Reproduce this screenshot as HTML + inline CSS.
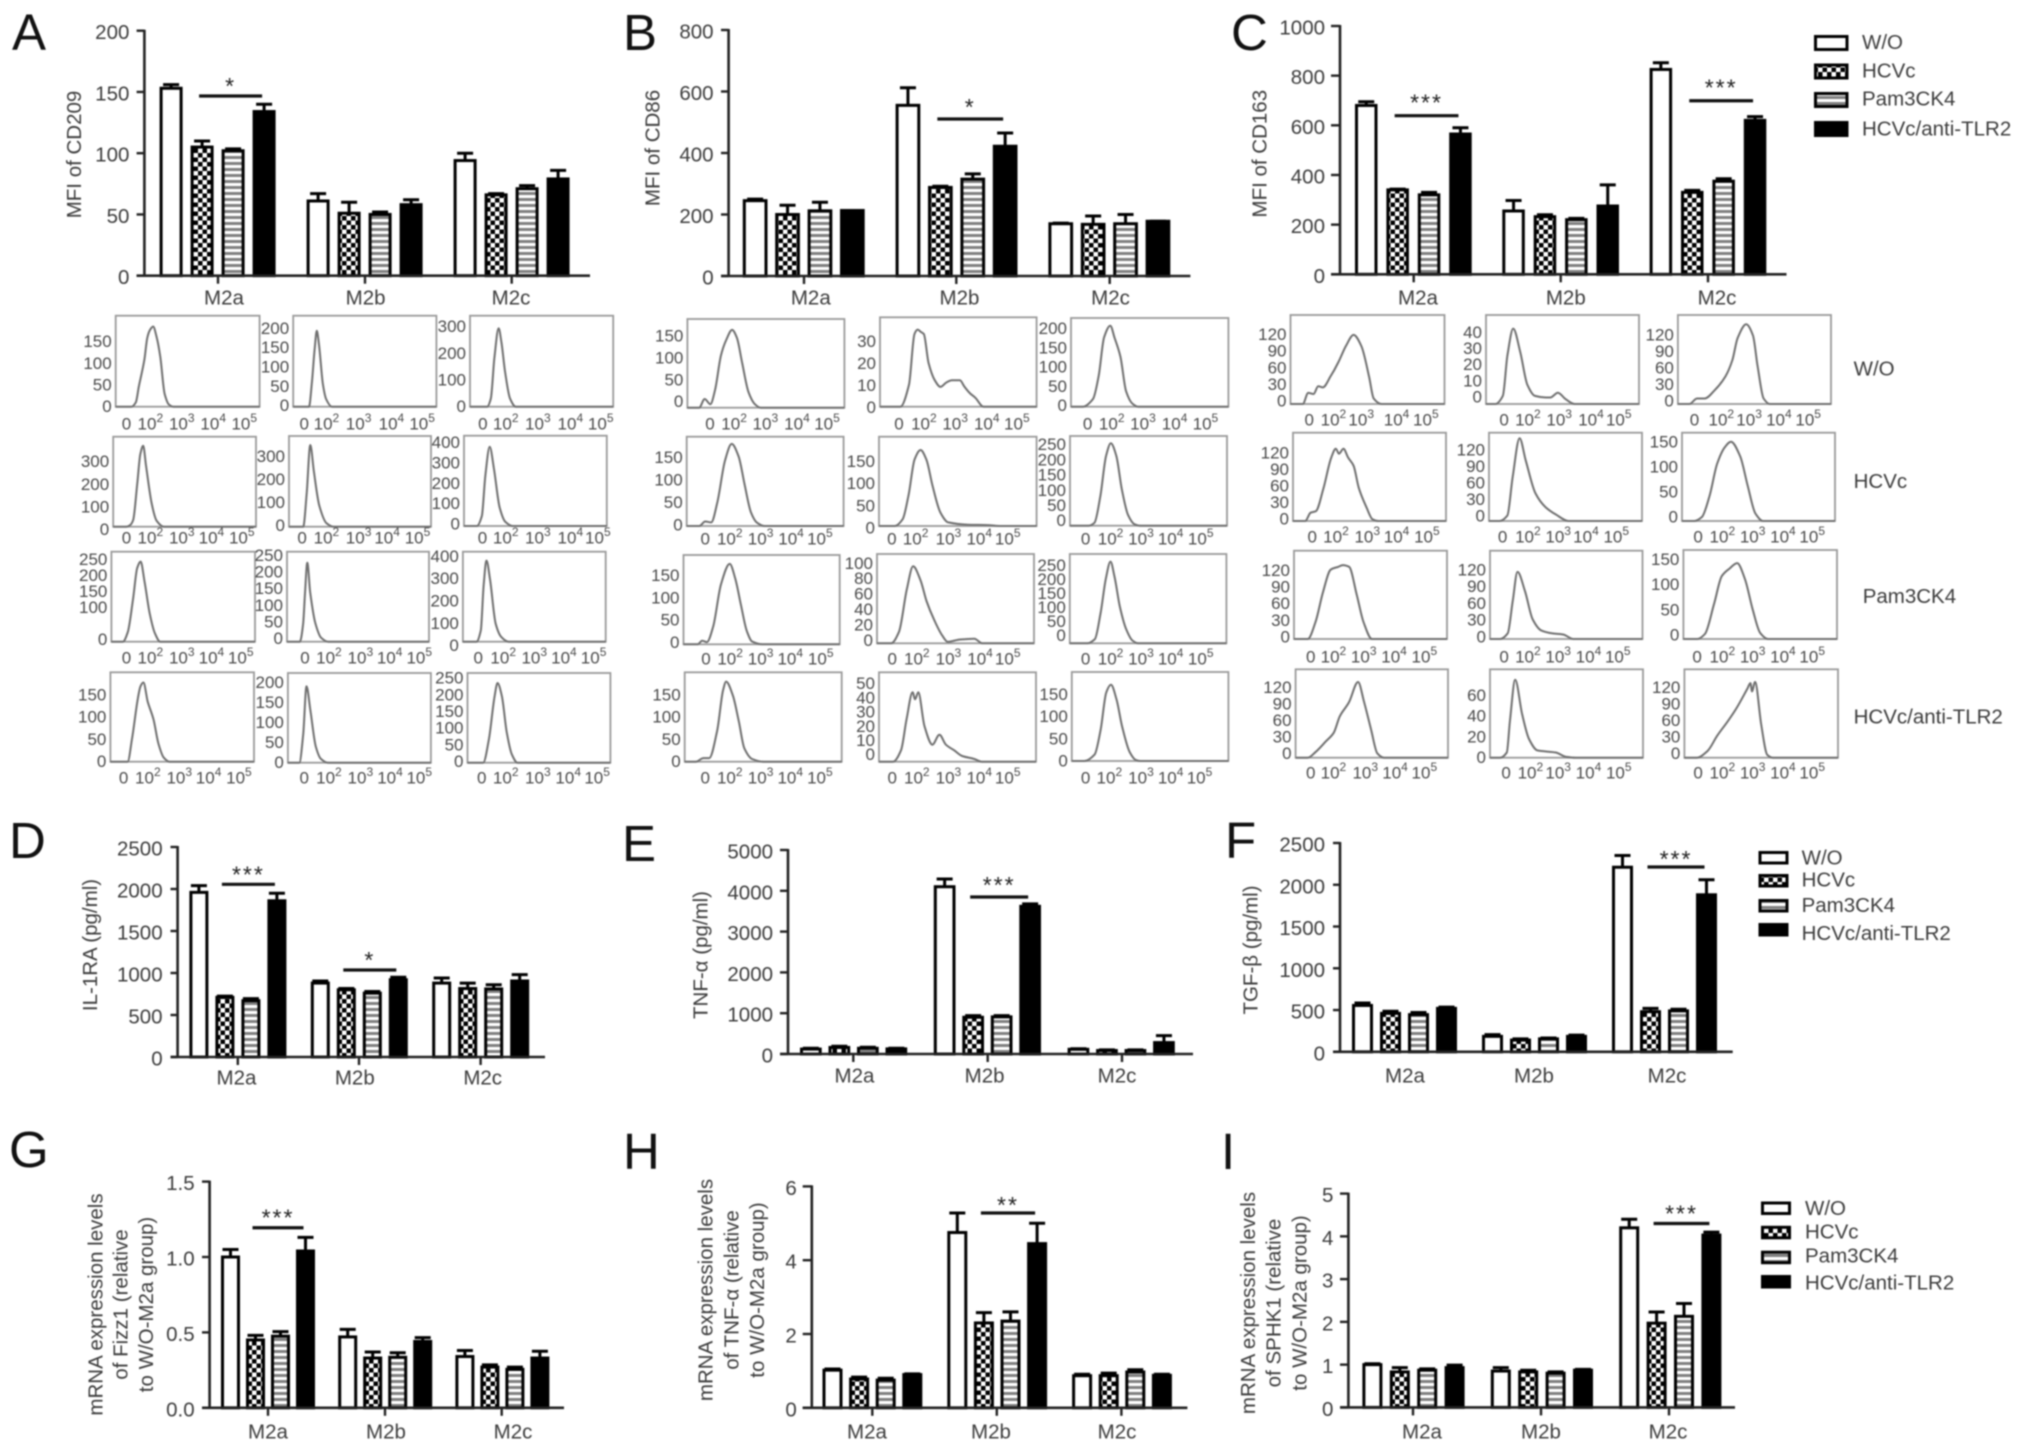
<!DOCTYPE html>
<html lang="en">
<head>
<meta charset="utf-8">
<title>M2 macrophage marker, cytokine and mRNA panels</title>
<style>
  html,body{margin:0;padding:0;background:#fff;}
  #figure{display:block;width:2032px;height:1451px;filter:blur(0.7px);font-family:"Liberation Sans",sans-serif;fill:#3c3c3c;}
  .letter{font-size:51px;fill:#111;}
  .ytitle{font-size:20.5px;text-anchor:middle;dominant-baseline:central;}
  .leg{font-size:20.5px;dominant-baseline:central;}
  .rowlabel{font-size:20.5px;dominant-baseline:central;}
  .swatch{stroke:#000;stroke-width:3;}
</style>
</head>
<body>
<svg id="figure" xmlns="http://www.w3.org/2000/svg" width="2032" height="1451" viewBox="0 0 2032 1451">
  <defs>
    <pattern id="pat-check" width="9" height="9" patternUnits="userSpaceOnUse">
      <rect width="9" height="9" fill="#fff"/>
      <rect width="4.5" height="4.5" fill="#000"/>
      <rect x="4.5" y="4.5" width="4.5" height="4.5" fill="#000"/>
    </pattern>
    <pattern id="pat-stripe" width="6" height="6" patternUnits="userSpaceOnUse">
      <rect width="6" height="6" fill="#fff"/>
      <rect width="6" height="3" fill="#808080"/>
    </pattern>
  </defs>
  <rect width="2032" height="1451" fill="#fff"/>

  <text class="letter" x="12" y="50">A</text>
  <text class="letter" x="623" y="50">B</text>
  <text class="letter" x="1231" y="50">C</text>
  <text class="letter" x="9" y="858">D</text>
  <text class="letter" x="622" y="861">E</text>
  <text class="letter" x="1225" y="858">F</text>
  <text class="letter" x="9" y="1167">G</text>
  <text class="letter" x="623" y="1169">H</text>
  <text class="letter" x="1221" y="1169">I</text>

  <text class="ytitle" transform="translate(74.6 154.5) rotate(-90)">MFI of CD209</text>
  <text class="ytitle" transform="translate(653 148) rotate(-90)">MFI of CD86</text>
  <text class="ytitle" transform="translate(1260 153.7) rotate(-90)">MFI of CD163</text>
  <text class="ytitle" transform="translate(90.5 945) rotate(-90)">IL-1RA (pg/ml)</text>
  <text class="ytitle" transform="translate(701 955) rotate(-90)">TNF-α (pg/ml)</text>
  <text class="ytitle" transform="translate(1251 950) rotate(-90)">TGF-β (pg/ml)</text>
  <g>
    <text class="ytitle" transform="translate(96 1304.5) rotate(-90)">mRNA expression levels</text>
    <text class="ytitle" transform="translate(121 1304.5) rotate(-90)">of Fizz1 (relative</text>
    <text class="ytitle" transform="translate(146.5 1304.5) rotate(-90)">to W/O-M2a group)</text>
  </g>
  <g>
    <text class="ytitle" transform="translate(706 1290) rotate(-90)">mRNA expression levels</text>
    <text class="ytitle" transform="translate(732 1290) rotate(-90)">of TNF-α (relative</text>
    <text class="ytitle" transform="translate(757.6 1290) rotate(-90)">to W/O-M2a group)</text>
  </g>
  <g>
    <text class="ytitle" transform="translate(1248.5 1303) rotate(-90)">mRNA expression levels</text>
    <text class="ytitle" transform="translate(1274 1303) rotate(-90)">of SPHK1 (relative</text>
    <text class="ytitle" transform="translate(1300 1303) rotate(-90)">to W/O-M2a group)</text>
  </g>

  <g>
    <g><rect class="swatch" x="1815.5" y="36.5" width="31.5" height="13" fill="#fff"/><text class="leg" x="1862" y="42.7">W/O</text></g>
    <g><rect class="swatch" x="1815.5" y="65" width="31.5" height="13" fill="url(#pat-check)"/><text class="leg" x="1862" y="71">HCVc</text></g>
    <g><rect class="swatch" x="1815.5" y="93.5" width="31.5" height="13" fill="url(#pat-stripe)"/><text class="leg" x="1862" y="99">Pam3CK4</text></g>
    <g><rect class="swatch" x="1815.5" y="122.5" width="31.5" height="13" fill="#000"/><text class="leg" x="1862" y="129">HCVc/anti-TLR2</text></g>
  </g>
  <g>
    <g><rect class="swatch" x="1760" y="852.5" width="27" height="10.5" fill="#fff"/><text class="leg" x="1801.6" y="858">W/O</text></g>
    <g><rect class="swatch" x="1760" y="875.5" width="27" height="10.5" fill="url(#pat-check)"/><text class="leg" x="1801.6" y="880">HCVc</text></g>
    <g><rect class="swatch" x="1760" y="900.5" width="27" height="10.5" fill="url(#pat-stripe)"/><text class="leg" x="1801.6" y="905.6">Pam3CK4</text></g>
    <g><rect class="swatch" x="1760" y="924.5" width="27" height="10.5" fill="#000"/><text class="leg" x="1801.6" y="933.3">HCVc/anti-TLR2</text></g>
  </g>
  <g>
    <g><rect class="swatch" x="1762.5" y="1203" width="27" height="10.5" fill="#fff"/><text class="leg" x="1805" y="1208.5">W/O</text></g>
    <g><rect class="swatch" x="1762.5" y="1227.3" width="27" height="10.5" fill="url(#pat-check)"/><text class="leg" x="1805" y="1232">HCVc</text></g>
    <g><rect class="swatch" x="1762.5" y="1252.2" width="27" height="10.5" fill="url(#pat-stripe)"/><text class="leg" x="1805" y="1256">Pam3CK4</text></g>
    <g><rect class="swatch" x="1762.5" y="1276.5" width="27" height="10.5" fill="#000"/><text class="leg" x="1805" y="1283">HCVc/anti-TLR2</text></g>
  </g>

  <text class="rowlabel" x="1853.6" y="369">W/O</text>
  <text class="rowlabel" x="1853.6" y="481.7">HCVc</text>
  <text class="rowlabel" x="1862.7" y="596.7">Pam3CK4</text>
  <text class="rowlabel" x="1853.6" y="717">HCVc/anti-TLR2</text>

  <g id="bar-charts"></g>
  <g id="histograms"></g>
</svg>

<script>
/* ---------- bar chart data ---------- */
const categories = ['M2a', 'M2b', 'M2c'];
const seriesNames = ['w-o', 'hcvc', 'pam3ck4', 'hcvc-anti-tlr2'];

const yTicksA = ['0', '50', '100', '150', '200'];
const valuesA = [[153, 105, 102, 134], [61, 51, 50, 58], [94, 66, 71, 79]];
const errorsA = [[3, 5, 1.5, 6], [6, 9, 2, 4], [6, 1, 2.5, 7]];
const sigA = [[0, 146.7, '*']];

const yTicksB = ['0', '200', '400', '600', '800'];
const valuesB = [[245, 200, 212, 213], [555, 288, 315, 422], [170, 168, 170, 178]];
const errorsB = [[5, 30, 28, 0], [57, 4, 17, 43], [2, 27, 30, 0]];
const sigB = [[1, 510.6, '*']];

const yTicksC = ['0', '200', '400', '600', '800', '1000'];
const valuesC = [[680, 340, 320, 565], [255, 232, 220, 275], [825, 330, 375, 620]];
const errorsC = [[15, 3, 10, 25], [42, 8, 5, 85], [27, 8, 10, 15]];
const sigC = [[0, 638.7, '***'], [2, 699, '***']];

const yTicksD = ['0', '500', '1000', '1500', '2000', '2500'];
const valuesD = [[1960, 710, 670, 1860], [880, 800, 760, 920], [880, 815, 810, 905]];
const errorsD = [[80, 15, 25, 90], [25, 15, 20, 30], [60, 65, 50, 75]];
const sigD = [[0, 2056, '***'], [1, 1036, '*']];

const yTicksE = ['0', '1000', '2000', '3000', '4000', '5000'];
const valuesE = [[120, 160, 140, 125], [4100, 900, 910, 3620], [115, 85, 85, 280]];
const errorsE = [[20, 30, 25, 15], [190, 40, 30, 60], [15, 15, 15, 170]];
const sigE = [[1, 3848, '***']];

const yTicksF = ['0', '500', '1000', '1500', '2000', '2500'];
const valuesF = [[555, 460, 445, 520], [185, 140, 155, 185], [2210, 480, 490, 1880]];
const errorsF = [[30, 25, 25, 15], [20, 15, 10, 15], [140, 40, 20, 180]];
const sigF = [[2, 2213, '***']];

const yTicksG = ['0.0', '0.5', '1.0', '1.5'];
const valuesG = [[1.0, 0.45, 0.475, 1.04], [0.47, 0.33, 0.335, 0.44], [0.34, 0.27, 0.255, 0.33]];
const errorsG = [[0.05, 0.03, 0.03, 0.09], [0.05, 0.04, 0.03, 0.025], [0.04, 0.015, 0.015, 0.045]];
const sigG = [[0, 1.194, '***']];

const yTicksH = ['0', '2', '4', '6'];
const valuesH = [[1.02, 0.78, 0.75, 0.9], [4.75, 2.3, 2.35, 4.45], [0.87, 0.87, 0.97, 0.88]];
const errorsH = [[0.03, 0.05, 0.05, 0.02], [0.53, 0.28, 0.25, 0.55], [0.04, 0.07, 0.06, 0.03]];
const sigH = [[1, 5.28, '**']];

const yTicksI = ['0', '1', '2', '3', '4', '5'];
const valuesI = [[1.0, 0.83, 0.87, 0.93], [0.85, 0.83, 0.8, 0.87], [4.2, 1.97, 2.13, 4.03]];
const errorsI = [[0.02, 0.1, 0.03, 0.06], [0.08, 0.04, 0.03, 0.02], [0.2, 0.26, 0.3, 0.07]];
const sigI = [[2, 4.3, '***']];

/* ---------- histogram data: curves are [channel %, count] ---------- */
const histYMaxA = [210, 235, 341, 397, 394, 444, 281, 270, 403, 201, 223, 268];
const histYTicksA = [[0,50,100,150],[0,50,100,150,200],[0,100,200,300],[0,100,200,300],[0,100,200,300],[0,100,200,300,400],[0,100,150,200,250],[0,50,100,150,200,250],[0,100,200,300,400],[0,50,100,150],[0,50,100,150,200],[0,50,100,150,200,250]];
const histCurvesA = [
  [[11,0],[14,10],[16,45],[20,110],[22,160],[24,178],[26,185],[28.5,160],[31,115],[34,30],[37,5],[40,0]],
  [[11,0],[13,60],[15,150],[16.5,196],[18,160],[20.7,60],[23,20],[27,0]],
  [[12,0],[14.5,30],[17,180],[20,294],[22,240],[24.5,130],[28,30],[32,0]],
  [[9,0],[12,8],[14,30],[17,200],[19,320],[21,357],[23,270],[27,100],[30.5,25],[35.5,0]],
  [[10,0],[12.5,150],[15,355],[17.5,240],[21.4,90],[26.4,15],[31.4,0]],
  [[9,0],[12.5,50],[15,250],[18,390],[21,280],[25,90],[29,20],[34,0]],
  [[8,0],[11.4,30],[15,130],[18,230],[20.4,250],[23,190],[26.6,90],[30.4,25],[34,0]],
  [[9,0],[11.3,50],[12.6,140],[14.3,237],[16.3,150],[20,55],[24,12],[29,0]],
  [[9.5,0],[12.5,50],[14.5,250],[16.5,363],[19,280],[23,80],[27,20],[32,0]],
  [[12,0],[15,50],[19,140],[21,170],[23,178],[26,135],[30,95],[33.5,40],[37,10],[41,0]],
  [[8,0],[10.7,70],[13,190],[15.7,130],[19.5,40],[23,10],[28,0]],
  [[11,0],[15,70],[19,200],[21,238],[24,200],[27.5,90],[31,25],[35,0]]
];

const histYMaxB = [203, 40.6, 230, 198, 201, 295, 201, 116, 319, 201, 63, 201];
const histYTicksB = [[0,50,100,150],[0,10,20,30],[0,50,100,150,200],[0,50,100,150],[0,50,100,150],[0,50,100,150,200,250],[0,50,100,150],[0,20,40,60,80,100],[0,50,100,150,200,250],[0,50,100,150],[0,10,20,30,40,50],[0,50,100,150]];
const histCurvesB = [
  [[7.5,0],[11,20],[14.6,8],[17.6,40],[21.4,120],[24.7,155],[28.5,178],[31.5,160],[35,100],[39,35],[43,8],[46.6,0]],
  [[13,0],[18.5,10],[22,33],[24,35],[26,34],[28,33],[31,20],[35,12],[38.6,9],[42.4,11],[46,12],[51,12],[54,9],[57.6,6],[61,4],[66,0]],
  [[7.5,0],[14,20],[17.6,80],[21,180],[25,210],[27.6,180],[31.4,130],[35,40],[39,8],[42.7,0]],
  [[8,0],[11.8,10],[15.6,8],[19.4,50],[24.4,145],[28.7,182],[33,155],[37,90],[41,30],[44.6,8],[49.6,0]],
  [[10,0],[15,15],[18.8,70],[22.6,150],[26.4,171],[30,150],[34,90],[39,30],[44,8],[56.5,3],[69,2],[76.6,0]],
  [[12,0],[15.6,10],[19.4,100],[23,230],[26,271],[29.5,230],[33,120],[37,35],[41,5],[44.6,0]],
  [[9,0],[12,8],[15,5],[19,40],[24,135],[29.6,181],[33,150],[36.7,90],[40.5,30],[44,6],[50.6,0]],
  [[9,0],[14,15],[19,70],[23,100],[27.7,82],[31.5,55],[36.5,30],[41.6,10],[45,2],[53,5],[62,6],[67,0]],
  [[11,0],[16,15],[19.7,110],[23,230],[26,292],[28.5,240],[32,130],[36,50],[40,10],[43.7,0]],
  [[7,0],[12,8],[15.6,8],[20.7,70],[24.4,160],[26.4,180],[30.6,150],[34.5,90],[38,30],[43,6],[50,0]],
  [[9,0],[14,8],[17.6,30],[21.4,49],[23,44],[25,49],[29,25],[34,12],[38.5,19],[42.6,12],[47.9,8],[53,4],[60.5,2],[65.5,0]],
  [[8,0],[14.6,15],[18.4,70],[22,155],[25,172],[28.5,140],[32,80],[37,20],[41,2],[43.7,0]]
];

const histYMaxC = [161, 55, 162, 160, 160, 177, 159, 158, 177, 160, 85, 160];
const histYTicksC = [[0,30,60,90,120],[0,10,20,30,40],[0,30,60,90,120],[0,30,60,90,120],[0,30,60,90,120],[0,50,100,150],[0,30,60,90,120],[0,30,60,90,120],[0,50,100,150],[0,30,60,90,120],[0,20,40,60],[0,30,60,90,120]];
const histCurvesC = [
  [[8,0],[11.5,20],[15,18],[18,32],[21,30],[26,50],[31,75],[36,105],[41,125],[46,105],[51,50],[54,10],[59,0]],
  [[6,0],[11,5],[14,30],[17.8,46.6],[22.4,32],[27,12],[32,5],[39,4],[42,4],[47,7],[52,3],[58,0]],
  [[7.5,0],[12.5,10],[17.5,10],[24,25],[31,50],[35.6,80],[39,120],[44.6,145],[49,125],[52,70],[56,10],[60,0]],
  [[8,0],[11.5,15],[15,18],[20,60],[25,115],[28,131],[30,122],[33,131],[36,115],[39.6,100],[43,60],[48,25],[52,3],[56,0]],
  [[7,0],[12,10],[15.5,80],[20,150],[24,110],[30.4,50],[37,25],[43.6,12],[52,0]],
  [[8,0],[13,8],[18,50],[23,115],[28,148],[32,159],[38,130],[43,70],[48,15],[53,0]],
  [[9,0],[14,30],[19,85],[24,125],[29,130],[32,133],[36,130],[41,80],[45.5,30],[51,0]],
  [[6.6,0],[11.6,10],[15,70],[18,120],[23,85],[28,35],[33.8,15],[41,10],[48,8],[54.6,0]],
  [[9,0],[14,10],[20,70],[25,125],[30,140],[35,151],[40,120],[45,60],[50,12],[55,0]],
  [[8,0],[13,10],[20,30],[25,45],[29,75],[35,100],[41,137],[45,100],[49.6,50],[53.6,8],[58,0]],
  [[6.6,0],[11,5],[13,35],[16.5,75],[21,42],[25.5,18],[31,7],[43,5],[49.5,1],[56,0]],
  [[8,0],[15,12],[21.4,40],[28,65],[34,90],[41,125],[43,135],[44,120],[46,137],[50,60],[54,5],[57.5,0]]
];

const histExponents = [0, 2, 3, 4, 5];

/* ---------- layout (pixels), separate from data ---------- */
const barLayouts = {
  A:{axisX:144.4,xStart:136.6,xEnd:590,top:30.7,base:275.7,first:159.6,barStep:31,barW:23,groupStep:147,ticks:[218,365,511.7],labels:[224,365.6,511],labelY:298,starDy:-15},
  B:{axisX:728.6,xStart:721,xEnd:1190.4,top:30,base:276,first:742.8,barStep:32.4,barW:24.7,groupStep:152.8,ticks:[804,956.3,1109.7],labels:[810.8,959.5,1110.5],labelY:298,starDy:-17},
  C:{axisX:1340,xStart:1331,xEnd:1786.5,top:26,base:274.3,first:1355,barStep:31.4,barW:22.5,groupStep:147.3,ticks:[1413.7,1560.7,1708],labels:[1418,1565.8,1717],labelY:298,starDy:-18},
  D:{axisX:177.6,xStart:170.5,xEnd:545,top:847,base:1057,first:189.4,barStep:26,barW:19,groupStep:121.4,ticks:[237.8,359,480.6],labels:[236.5,354.8,482.7],labelY:1078,starDy:-15},
  E:{axisX:788,xStart:780,xEnd:1193,top:850,base:1054,first:800,barStep:28.5,barW:21.7,groupStep:133.8,ticks:[853.3,987.7,1122],labels:[854.5,984.6,1117],labelY:1076,starDy:-17},
  F:{axisX:1340,xStart:1333,xEnd:1732.7,top:843,base:1051.8,first:1352,barStep:28,barW:21,groupStep:130,ticks:[],labels:[1405,1534,1667],labelY:1076,starDy:-13},
  G:{axisX:209.6,xStart:202,xEnd:564,top:1181.6,base:1407.8,first:221,barStep:25,barW:19,groupStep:117.2,ticks:[268,385,501.7],labels:[268,386,513],labelY:1432,starDy:-15},
  H:{axisX:811.8,xStart:802.7,xEnd:1187.4,top:1186.4,base:1407.8,first:822.5,barStep:26.6,barW:20,groupStep:124.8,ticks:[872.3,996.8,1121.4],labels:[867,991,1117],labelY:1432,starDy:-13},
  I:{axisX:1348.4,xStart:1340,xEnd:1735,top:1193.6,base:1407.4,first:1362.4,barStep:27.4,barW:20,groupStep:128.4,ticks:[1413,1541,1669],labels:[1422,1541,1668],labelY:1432,starDy:-15}
};

const histBoxesA = [[115.7,315.7,143.9,91],[293.2,315.7,143.2,91],[470,315.7,143.2,91],[113.2,436.7,142.8,90],[289,436,142,90.7],[464,435.7,142.8,90.3],[111.4,551.7,143.6,90],[287,551.7,142,90],[462.9,551.7,142.8,90],[110.4,672.3,143.6,89.4],[287.9,673,143,89.7],[467.5,673,142.9,89.7]];
const histBoxesB = [[687.4,319,157,88.7],[880,317.3,156.6,89.4],[1071,318,157.4,88.7],[686.7,436.7,156.9,89.3],[879,436.7,157.6,89.3],[1070,436,157,89.7],[683.5,555,156.2,89.3],[877,554,157,89.3],[1069.8,554,156.6,89.3],[684.7,672.3,157,89.4],[879,672.3,157,89.4],[1071.8,672,156.6,89]];
const histBoxesC = [[1290.5,315,154,89],[1486,315,153,89],[1677.9,315,153.1,89],[1293,432.7,153,88.3],[1489,432.7,153,88.3],[1682,432.7,153,88.3],[1294,550.7,153,88.3],[1490,550.7,152.5,88.3],[1683.4,550,153.6,89],[1295.6,669.3,152.4,88.4],[1490,669.3,153,88.4],[1684.4,669.3,153.6,88.4]];
const histLabelShiftA = [0,-1,0,3,-1,-2,-2,-3,4,0,0,-1];
const histLabelShiftB = [-6,1,-1,-1,2,-5,-2,-3,-8,0,-7,0];
const histLabelShiftC = [-3,-7,-3,-2,-5,-4,-2,-2,-4,-4,0,-4];
const histRowLabelYA = [424, 538, 658, 778];
const histRowLabelYB = [424, 539, 659, 778];
const histRowLabelYC = [420, 537, 657, 773];
const histLabelPosA = {origin:80,scale:2.8,rows:[[130,197,285,373,460],[628,690,780,872,958],[1128,1192,1282,1373,1458],[130,197,285,368,453],[622,690,780,860,945],[1127,1192,1282,1373,1450],[130,197,285,368,450],[630,697,785,867,950],[1115,1185,1272,1355,1438],[122,190,278,360,445],[628,697,785,868,950],[1125,1192,1282,1367,1448]]};
const histLabelPosB = {origin:640,scale:2.529,rows:[[177,238,317,397,473],[655,718,797,877,953],[1132,1193,1272,1352,1430],[165,227,305,382,455],[637,697,780,858,930],[1127,1190,1267,1342,1418],[167,228,305,380,457],[638,700,780,860,930],[1127,1190,1267,1342,1418],[165,227,305,380,455],[638,700,780,858,930],[1127,1187,1267,1342,1415]]};
const histLabelPosC = {origin:1240,scale:1.98,rows:[[137,185,240,310,368],[523,570,632,695,750],[900,953,1008,1067,1125],[143,190,252,310,370],[520,570,630,685,745],[907,955,1015,1075,1133],[140,185,245,305,365],[523,570,630,690,748],[905,955,1015,1075,1133],[140,185,248,307,365],[527,575,630,690,750],[907,955,1015,1075,1133]]};

/* ---------- drawing ---------- */
const SVGNS = 'http://www.w3.org/2000/svg';
function mk(tag, attrs, parent) {
  const node = document.createElementNS(SVGNS, tag);
  for (const k in attrs) node.setAttribute(k, attrs[k]);
  parent.appendChild(node);
  return node;
}
const barFills = ['#fff', 'url(#pat-check)', 'url(#pat-stripe)', '#000'];

/* monotone cubic path so curves stay smooth without overshooting the baseline */
function smoothPath(pts) {
  const n = pts.length;
  const m = [];
  for (let i = 0; i < n - 1; i++) m.push((pts[i + 1][1] - pts[i][1]) / (pts[i + 1][0] - pts[i][0]));
  const t = [m[0]];
  for (let i = 1; i < n - 1; i++) t.push(m[i - 1] * m[i] <= 0 ? 0 : 2 / (1 / m[i - 1] + 1 / m[i]));
  t.push(m[n - 2]);
  let d = 'M' + pts[0][0].toFixed(1) + ' ' + pts[0][1].toFixed(1);
  for (let i = 0; i < n - 1; i++) {
    const h = (pts[i + 1][0] - pts[i][0]) / 3;
    d += 'C' + (pts[i][0] + h).toFixed(1) + ' ' + (pts[i][1] + t[i] * h).toFixed(1) + ' ' +
         (pts[i + 1][0] - h).toFixed(1) + ' ' + (pts[i + 1][1] - t[i + 1] * h).toFixed(1) + ' ' +
         pts[i + 1][0].toFixed(1) + ' ' + pts[i + 1][1].toFixed(1);
  }
  return d;
}

function drawBarChart(id, yTicks, values, errors, sig) {
  const L = barLayouts[id];
  const yMax = Number(yTicks[yTicks.length - 1]);
  const yScale = v => L.base - (v / yMax) * (L.base - L.top);
  const barX = (g, s) => L.first + g * L.groupStep + s * L.barStep;
  const root = document.getElementById('bar-charts');

  const panel = mk('g', {}, root);
  
  

  values.forEach((grp, g) => {
    grp.forEach((v, s) => {
      const cx = barX(g, s) + L.barW / 2;
      const errTop = yScale(v + errors[g][s]);
      const err = mk('path', {d: 'M' + cx + ' ' + yScale(v) + 'V' + errTop + 'M' + (cx - 8) + ' ' + errTop + 'H' + (cx + 8), stroke: '#000', 'stroke-width': 3, fill: 'none'}, panel);
      
      
      const bar = mk('rect', {x: barX(g, s) + 1.5, y: yScale(v), width: L.barW - 3, height: L.base - yScale(v), fill: barFills[s], stroke: '#000', 'stroke-width': 3}, panel);
      
      
    });
  });

  const yAxis = mk('line', {x1: L.axisX, x2: L.axisX, y1: L.top - 1, y2: L.base, stroke: '#222', 'stroke-width': 2.6}, panel);
  
  
  const xAxis = mk('line', {x1: L.xStart, x2: L.xEnd, y1: L.base, y2: L.base, stroke: '#222', 'stroke-width': 2.6}, panel);
  
  

  yTicks.forEach(t => {
    const v = Number(t);
    const tick = mk('line', {x1: L.xStart, x2: L.axisX, y1: yScale(v), y2: yScale(v), stroke: '#222', 'stroke-width': 2.4}, panel);
    
    
    const lab = mk('text', {x: L.axisX - 15, y: yScale(v) + 2, 'text-anchor': 'end', 'dominant-baseline': 'central', 'font-size': 20.5}, panel);
    lab.textContent = t;
    
    
  });

  L.ticks.forEach(x => {
    const tick = mk('line', {x1: x, x2: x, y1: L.base, y2: L.base + 8, stroke: '#222', 'stroke-width': 2.4}, panel);
    
    
  });
  categories.forEach((c, i) => {
    const lab = mk('text', {x: L.labels[i], y: L.labelY, 'text-anchor': 'middle', 'dominant-baseline': 'central', 'font-size': 20.5}, panel);
    lab.textContent = c;
    
    
  });

  sig.forEach(item => {
    const g = item[0];
    const y = yScale(item[1]);
    const x1 = barX(g, 1) + L.barW / 2 - 3;
    const x2 = barX(g, 3) + L.barW / 2 - 2;
    const line = mk('line', {x1: x1, x2: x2, y1: y, y2: y, stroke: '#111', 'stroke-width': 3.2}, panel);
    
    
    const star = mk('text', {x: (x1 + x2) / 2, y: y + L.starDy + 13, 'text-anchor': 'middle', 'font-size': 23, 'letter-spacing': 2, fill: '#222'}, panel);
    star.textContent = item[2];
    
    
  });
}

function drawHistograms(panelName, boxes, curves, yMaxes, yTicks, shifts, labelPos, rowY) {
  const root = document.getElementById('histograms');
  const group = mk('g', {}, root);
  
  

  boxes.forEach((box, i) => {
    const bx = box[0], by = box[1], bw = box[2], bh = box[3];
    const xScale = ch => bx + (ch / 100) * bw;
    const yScale = c => by + bh - (c / yMaxes[i]) * bh;
    const p = mk('g', {}, group);
    
    

    const frame = mk('rect', {x: bx, y: by, width: bw, height: bh, fill: '#fff', stroke: '#9a9a9a', 'stroke-width': 1.8}, p);
    
    

    const pts = [[0, 0]].concat(curves[i], [[100, 0]]).map(q => [xScale(q[0]), yScale(q[1])]);
    const line = mk('path', {d: smoothPath(pts), fill: 'none', stroke: '#6f6f6f', 'stroke-width': 2, 'stroke-linejoin': 'round'}, p);
    
    

    yTicks[i].forEach(t => {
      const lab = mk('text', {x: bx - 4, y: yScale(t) + shifts[i], 'text-anchor': 'end', 'dominant-baseline': 'central', 'font-size': 17, fill: '#4a4a4a'}, p);
      lab.textContent = t;
      
      
    });

    const row = Math.floor(i / 3);
    histExponents.forEach((e, k) => {
      const lab = mk('text', {x: labelPos.origin + labelPos.rows[i][k] / labelPos.scale, y: rowY[row], 'text-anchor': 'middle', 'dominant-baseline': 'central', 'font-size': 17, fill: '#4a4a4a'}, p);
      if (e === 0) {
        lab.textContent = '0';
      } else {
        lab.textContent = '10';
        const sup = mk('tspan', {dy: -6, 'font-size': 12}, lab);
        sup.textContent = String(e);
      }
      
      
    });
  });
}

drawBarChart('A', yTicksA, valuesA, errorsA, sigA);
drawBarChart('B', yTicksB, valuesB, errorsB, sigB);
drawBarChart('C', yTicksC, valuesC, errorsC, sigC);
drawBarChart('D', yTicksD, valuesD, errorsD, sigD);
drawBarChart('E', yTicksE, valuesE, errorsE, sigE);
drawBarChart('F', yTicksF, valuesF, errorsF, sigF);
drawBarChart('G', yTicksG, valuesG, errorsG, sigG);
drawBarChart('H', yTicksH, valuesH, errorsH, sigH);
drawBarChart('I', yTicksI, valuesI, errorsI, sigI);

drawHistograms('a', histBoxesA, histCurvesA, histYMaxA, histYTicksA, histLabelShiftA, histLabelPosA, histRowLabelYA);
drawHistograms('b', histBoxesB, histCurvesB, histYMaxB, histYTicksB, histLabelShiftB, histLabelPosB, histRowLabelYB);
drawHistograms('c', histBoxesC, histCurvesC, histYMaxC, histYTicksC, histLabelShiftC, histLabelPosC, histRowLabelYC);
</script>
</body>
</html>
